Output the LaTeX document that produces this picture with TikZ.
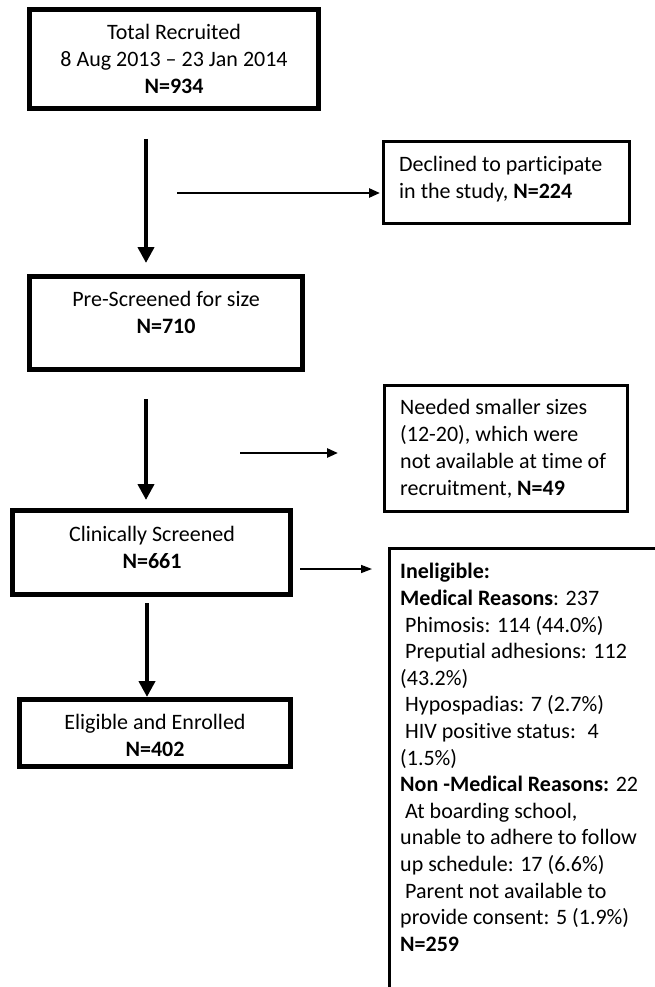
\documentclass[tikz,border=0pt]{standalone}
\usepackage{fontspec}
\setmainfont{Carlito}[Ligatures=CommonOff]
\usetikzlibrary{arrows.meta}
\begin{document}
\begin{tikzpicture}[x=1pt,y=-1pt,
  thickbox/.style={draw, line width=5pt, rectangle, inner sep=0pt},
  thinbox/.style={draw, line width=3pt, rectangle, inner sep=0pt},
  txt/.style={font=\fontsize{22}{26.8}\selectfont, inner sep=0pt},
  mainarrow/.style={line width=4.5pt, -{Triangle[length=16pt,width=16pt]}},
  sidearrow/.style={line width=2.5pt, -{Triangle[length=11pt,width=9pt]}},
  thinarrow/.style={line width=1.5pt, -{Triangle[length=11pt,width=8pt]}},
]
\useasboundingbox (0,0) rectangle (655,987);
\clip (0,0) rectangle (655,987);

% boxes
\node[thickbox, minimum width=289pt, minimum height=99pt] (rec) at (174,59) {};
\node[thinbox, minimum width=246pt, minimum height=82pt] (dec) at (506.5,182.5) {};
\node[thickbox, minimum width=273pt, minimum height=93pt] (pre) at (166,323) {};
\node[thinbox, minimum width=243pt, minimum height=126pt] (need) at (506,448.5) {};
\node[thickbox, minimum width=278pt, minimum height=84pt] (clin) at (151.5,552.5) {};
\node[thickbox, minimum width=271pt, minimum height=67pt] (elig) at (155,733) {};
\node[thinbox, minimum width=310pt, minimum height=500pt] (inel) at (544.5,798.5) {};

% texts
\node[txt, anchor=north, align=center] (rect) at (174,21) {\strut Total Recruited\\8 Aug 2013 – 23 Jan 2014\\\textbf{N=934}};
\node[txt, anchor=north west, align=left] (dect) at (399,153) {\strut Declined to participate\\in the study, \textbf{N=224}};
\node[txt, anchor=north, align=center] (pret) at (166,288) {\strut Pre-Screened for size\\\textbf{N=710}};
\node[txt, anchor=north west, align=left] (needt) at (400,396) {\strut Needed smaller sizes\\(12-20), which were\\not available at time of\\recruitment, \textbf{N=49}};
\node[txt, anchor=north, align=center] (clint) at (152,523) {\strut Clinically Screened\\\textbf{N=661}};
\node[txt, anchor=north, align=center] (eligt) at (155,711) {\strut Eligible and Enrolled\\\textbf{N=402}};
\node[txt, font=\fontsize{22}{26.6}\selectfont, anchor=north west, align=left] (inelt) at (400,560) {\strut\textbf{Ineligible:}\\
\textbf{Medical Reasons}: 237\\
\hspace*{5pt}Phimosis: 114 (44.0\%)\\
\hspace*{5pt}Preputial adhesions: 112\\
(43.2\%)\\
\hspace*{5pt}Hypospadias: 7 (2.7\%)\\
\hspace*{5pt}HIV positive status: \ 4\\
(1.5\%)\\
\textbf{Non -Medical Reasons:} 22\\
\hspace*{5pt}At boarding school,\\
unable to adhere to follow\\
up schedule: 17 (6.6\%)\\
\hspace*{5pt}Parent not available to\\
provide consent: 5 (1.9\%)\\
\textbf{N=259}};

% connector end points
\coordinate (a1s) at (146,139);
\coordinate (a1e) at (146,263);
\coordinate (h1s) at (177,193);
\coordinate (h1e) at (380,193);
\coordinate (a2s) at (146,399);
\coordinate (a2e) at (146,500);
\coordinate (h2s) at (240,453);
\coordinate (h2e) at (338,453);
\coordinate (a3s) at (147,603);
\coordinate (a3e) at (147,697);
\coordinate (h3s) at (300,569);
\coordinate (h3e) at (372,569);

\draw[mainarrow] (a1s) -- (a1e);
\draw[sidearrow] (h1s) -- (h1e);
\draw[mainarrow] (a2s) -- (a2e);
\draw[sidearrow] (h2s) -- (h2e);
\draw[mainarrow] (a3s) -- (a3e);
\draw[thinarrow] (h3s) -- (h3e);
\end{tikzpicture}
\end{document}
